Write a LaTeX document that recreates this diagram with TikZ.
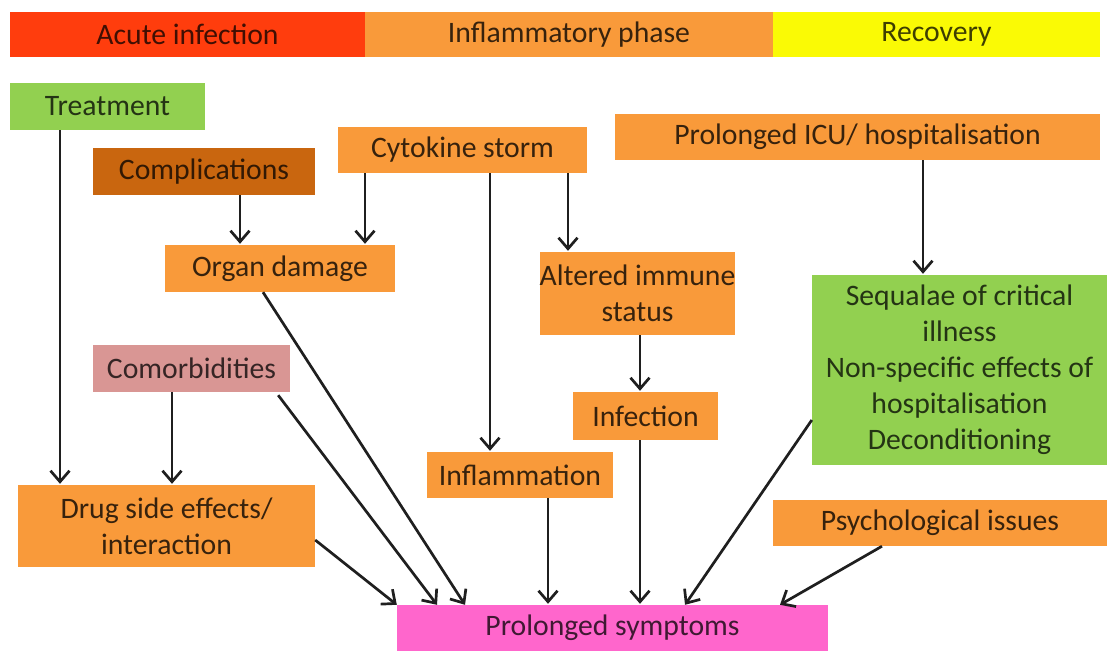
\documentclass[tikz,border=0pt]{standalone}
\usepackage{fontspec}
\setmainfont{Carlito}
\usetikzlibrary{arrows.meta,calc,positioning}
\definecolor{phasered}{HTML}{FF3D0D}
\definecolor{boxorange}{HTML}{F99A3A}
\definecolor{phaseyellow}{HTML}{FAFA05}
\definecolor{boxgreen}{HTML}{92D050}
\definecolor{darkorange}{HTML}{C9660F}
\definecolor{boxpink}{HTML}{D99694}
\definecolor{boxmagenta}{HTML}{FF66CC}
\tikzset{
    mybox/.style={inner sep=0pt,align=center,font=\fontsize{29.7}{36}\selectfont},
    orangebox/.style={mybox,fill=boxorange,text=boxorange!22!black},
    greenbox/.style={mybox,fill=boxgreen,text=boxgreen!25!black},
    redbox/.style={mybox,fill=phasered,text=phasered!25!black},
    yellowbox/.style={mybox,fill=phaseyellow,text=phaseyellow!25!black},
    darkbox/.style={mybox,fill=darkorange,text=darkorange!25!black},
    pinkbox/.style={mybox,fill=boxpink,text=boxpink!25!black},
    magentabox/.style={mybox,fill=boxmagenta,text=boxmagenta!25!black},
    myarrow/.style={line width=2.7pt,draw=black!88,-{Straight Barb[length=11pt,width=19pt,line width=2.7pt]}}
}
\begin{document}
\begin{tikzpicture}[x=1pt,y=-1pt]
  \useasboundingbox (0,0) rectangle (1110,651);

  % phases
  \node[redbox,minimum width=355pt,minimum height=45pt]    (acute)    at (187.5,34.5) {Acute infection};
  \node[orangebox,minimum width=408pt,minimum height=45pt] (inflphase) at (569,34.5)  {Inflammatory phase};
  \node[yellowbox,minimum width=327pt,minimum height=45pt] (recovery) at (936.5,34.5) {Recovery};

  % causes
  \node[greenbox,minimum width=195pt,minimum height=47pt]   (treat)   at (107.5,106.5) {Treatment};
  \node[darkbox,minimum width=222pt,minimum height=47pt]    (compl)   at (204,171.5)   {Complications};
  \node[orangebox,minimum width=249pt,minimum height=46pt]  (cyto)    at (462.5,150)   {Cytokine storm};
  \node[orangebox,minimum width=485pt,minimum height=46pt]  (icu)     at (857.5,137)   {Prolonged ICU/ hospitalisation};
  \node[orangebox,minimum width=230pt,minimum height=47pt]  (organ)   at (280,268.5)   {Organ damage};
  \node[orangebox,minimum width=175pt,minimum height=83pt]  (altered) at (637.5,293.5) {Altered immune\\status};
  \node[greenbox,minimum width=295pt,minimum height=190pt]  (sequel)  at (959.5,370)
    {Sequalae of critical\\illness\\Non-specific effects of\\hospitalisation\\Deconditioning};
  \node[pinkbox,minimum width=197pt,minimum height=47pt]    (comorb)  at (191.5,368.5) {Comorbidities};
  \node[orangebox,minimum width=145pt,minimum height=48pt]  (infect)  at (645.5,416)   {Infection};
  \node[orangebox,minimum width=186pt,minimum height=46pt]  (inflam)  at (520,475)     {Inflammation};
  \node[orangebox,minimum width=297pt,minimum height=82pt]  (drug)    at (166.5,526)   {Drug side effects/\\interaction};
  \node[orangebox,minimum width=334pt,minimum height=46pt]  (psych)   at (940,523)     {Psychological issues};
  \node[magentabox,minimum width=431pt,minimum height=46pt] (prolsym) at (612.5,628)   {Prolonged symptoms};

  % vertical links
  \foreach \a/\b/\x in {treat/drug/60,compl/organ/240,cyto/organ/365,cyto/inflam/490,
                        cyto/altered/568,icu/sequel/923,altered/infect/640,comorb/drug/172,
                        inflam/prolsym/548,infect/prolsym/640}{
    \draw[myarrow,shorten >=1pt] (\a.south -| \x,0) -- (\b.north -| \x,0);
  }

  % slanted links to prolonged symptoms
  \draw[myarrow] (organ.south -| 263,0) -- (prolsym.north -| 465,0);
  \draw[myarrow] ($(comorb.south east)+(-12,3)$) -- (prolsym.north -| 437,0);
  \draw[myarrow] (drug.east |- 0,540) -- (prolsym.north west);
  \draw[myarrow] (sequel.west |- 0,420) -- (prolsym.north -| 685,0);
  \draw[myarrow] (psych.south -| 882,0) -- (prolsym.north -| 780,0);
\end{tikzpicture}
\end{document}
